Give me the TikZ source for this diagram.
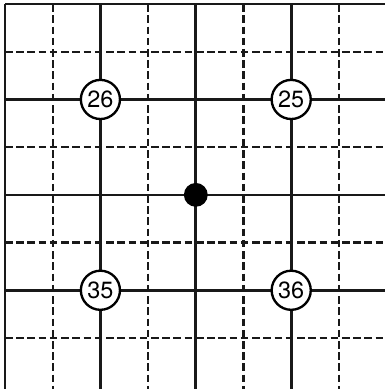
\documentclass[tikz,border=0pt]{standalone}
\usepackage{fontspec}
\setmainfont{TeX Gyre Heros}
\begin{document}
\begin{tikzpicture}[x=1cm, y=1cm,
    solidline/.style={line width=1.6pt, black!90},
    dashline/.style={line width=1.4pt, black!90, dash pattern=on 4.5pt off 2.2pt},
    stone/.style={circle, draw=black, line width=1.4pt, fill=white, minimum size=0.82cm, inner sep=0pt, font=\fontsize{14}{14}\selectfont},
    every node/.style={font=\footnotesize}]
  \useasboundingbox (-0.105,0.085) rectangle (7.97,-8.07);
  \fill[white] (-0.105,0.085) rectangle (7.97,-8.07);

  % dashed half lines
  \foreach \i in {1,3,5,7} {
    \draw[dashline] (\i,0) -- (\i,-8.07);
    \draw[dashline] (0,-\i) -- (7.97,-\i);
  }
  % solid main lines
  \foreach \i in {0,2,4,6} {
    \draw[solidline] (\i,0) -- (\i,-8.07);
    \draw[solidline] (0,-\i) -- (7.97,-\i);
  }

  % centre point
  \fill (4,-4) circle (0.25cm);

  % numbered circles
  \node[stone] (n26) at (2,-2) {26};
  \node[stone] (n25) at (6,-2) {25};
  \node[stone] (n35) at (2,-6) {35};
  \node[stone] (n36) at (6,-6) {36};
\end{tikzpicture}
\end{document}
